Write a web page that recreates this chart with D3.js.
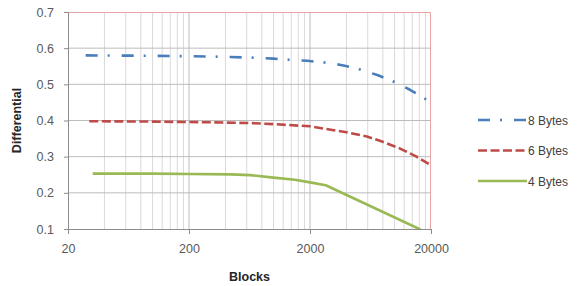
<!DOCTYPE html>
<html>
<head>
<meta charset="utf-8">
<script src="https://cdn.jsdelivr.net/npm/d3@7"></script>
<style>
  body { margin: 0; background: #fff; }
  svg { font-family: "Liberation Sans", Arial, sans-serif; }
</style>
</head>
<body>
<script>
// series data (x = blocks, y = differential)
var blocks8 = [28, 100, 300, 640, 1000, 1330, 1900, 2700, 3700, 5200, 7300, 9900, 13400, 19000];
var diff8   = [0.580, 0.579, 0.577, 0.574, 0.571, 0.568, 0.565, 0.560, 0.553, 0.541, 0.525, 0.507, 0.485, 0.455];
var blocks6 = [30, 100, 300, 640, 1000, 2000, 3900, 5900, 8000, 11000, 15200, 20000];
var diff6   = [0.398, 0.397, 0.395, 0.393, 0.390, 0.384, 0.368, 0.356, 0.341, 0.323, 0.300, 0.276];
var blocks4 = [32, 100, 200, 440, 640, 1000, 1500, 2000, 2700, 16000, 20000];
var diff4   = [0.253, 0.253, 0.252, 0.251, 0.249, 0.242, 0.236, 0.229, 0.221, 0.100, 0.080];
var seriesNames = ["8 Bytes", "6 Bytes", "4 Bytes"];
var xTicks = [20, 200, 2000, 20000];
var yTicks = [0.1, 0.2, 0.3, 0.4, 0.5, 0.6, 0.7];

var W = 579, H = 286;
var margin = {top: 12, right: 148, bottom: 57, left: 68},
    width = W - margin.left - margin.right,
    height = H - margin.top - margin.bottom;

var svg = d3.select("body").append("svg")
    .attr("width", W).attr("height", H);
var g = svg.append("g")
    .attr("transform", "translate(" + margin.left + "," + margin.top + ")");

var x = d3.scaleLog().domain([20, 20000]).range([0, width]);
var y = d3.scaleLinear().domain([0.1, 0.7]).range([height, 0]);

// minor vertical grid (multiples of 20 in each decade)
var minor = [];
[20, 200, 2000].forEach(function(b) {
    for (var k = 2; k <= 9; k++) minor.push(b * k);
});
g.selectAll(".minor").data(minor).enter().append("line")
    .attr("x1", function(d) { return x(d); }).attr("x2", function(d) { return x(d); })
    .attr("y1", 0).attr("y2", height)
    .attr("stroke", "#dadada").attr("stroke-width", 1);
// major vertical grid
g.selectAll(".vmaj").data(xTicks.slice(1, 3)).enter().append("line")
    .attr("x1", function(d) { return x(d); }).attr("x2", function(d) { return x(d); })
    .attr("y1", 0).attr("y2", height)
    .attr("stroke", "#bcbcbc").attr("stroke-width", 1);
// horizontal grid
g.selectAll(".hmaj").data(yTicks.slice(1, 6)).enter().append("line")
    .attr("x1", 0).attr("x2", width)
    .attr("y1", function(d) { return y(d); }).attr("y2", function(d) { return y(d); })
    .attr("stroke", "#bcbcbc").attr("stroke-width", 1);

// top / right border (reddish)
g.append("path")
    .attr("d", "M0,0.5H" + (width - 0.5) + "V" + height)
    .attr("fill", "none").attr("stroke", "#e8a4a4").attr("stroke-width", 1);

// axes
var yAxis = g.append("g")
    .call(d3.axisLeft(y).tickValues(yTicks).tickFormat(d3.format(".1f")).tickSize(4).tickPadding(10));
var xAxis = g.append("g")
    .attr("transform", "translate(0," + height + ")")
    .call(d3.axisBottom(x).tickValues(xTicks).tickFormat(d3.format("d")).tickSize(5).tickPadding(10));
[yAxis, xAxis].forEach(function(a) {
    a.select(".domain").attr("stroke", "#8c8c8c");
    a.selectAll(".tick line").attr("stroke", "#8c8c8c");
    a.selectAll("text").attr("fill", "#595959").style("font-size", "12.5px");
});

// series lines
var series = [
    {name: seriesNames[0], xs: blocks8, ys: diff8, color: "#4a7ebb", dash: "12,10,2,12"},
    {name: seriesNames[1], xs: blocks6, ys: diff6, color: "#be4b48", dash: "9,3.5"},
    {name: seriesNames[2], xs: blocks4, ys: diff4, color: "#98b954", dash: null}
];

svg.append("clipPath").attr("id", "plotclip")
    .append("rect").attr("x", 0).attr("y", 0).attr("width", width).attr("height", height);

var line = d3.line()
    .x(function(d) { return x(d[0]); })
    .y(function(d) { return y(d[1]); });

var plot = g.append("g").attr("clip-path", "url(#plotclip)");
series.forEach(function(s) {
    plot.append("path")
        .datum(d3.zip(s.xs, s.ys))
        .attr("d", line)
        .attr("fill", "none")
        .attr("stroke", s.color)
        .attr("stroke-width", 2.6)
        .attr("stroke-linejoin", "round")
        .attr("stroke-dasharray", s.dash);
});

// legend
var legend = svg.append("g").attr("transform", "translate(478,120)");
series.forEach(function(s, i) {
    var row = legend.append("g").attr("transform", "translate(0," + (i * 30.5) + ")");
    row.append("line")
        .attr("x1", 0).attr("x2", 49).attr("y1", 0).attr("y2", 0)
        .attr("stroke", s.color).attr("stroke-width", 2.6)
        .attr("stroke-dasharray", s.dash);
    row.append("text")
        .attr("x", 50).attr("y", 4.5)
        .attr("fill", "#404040")
        .style("font-size", "12px")
        .text(s.name);
});

// axis titles
svg.append("text")
    .attr("x", margin.left + width / 2).attr("y", 281)
    .attr("text-anchor", "middle")
    .style("font-size", "12.5px").style("font-weight", "bold")
    .attr("fill", "#262626")
    .text("Blocks");
svg.append("text")
    .attr("transform", "translate(21," + (margin.top + height / 2) + ") rotate(-90)")
    .attr("text-anchor", "middle")
    .style("font-size", "12.5px").style("font-weight", "bold")
    .attr("fill", "#262626")
    .text("Differential");
</script>
</body>
</html>
